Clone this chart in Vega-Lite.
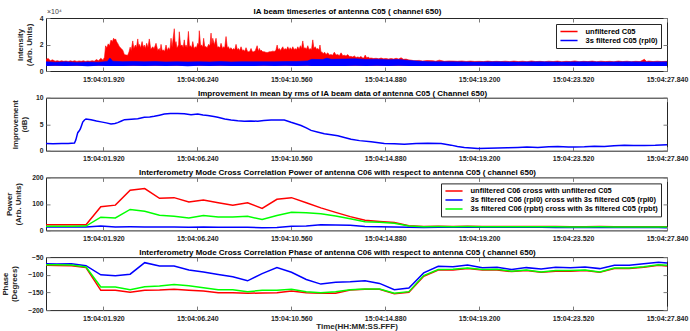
{
"$schema": "https://vega.github.io/schema/vega-lite/v6.json",
"background": "white",
"padding": {"left": 1, "top": 7, "right": 0, "bottom": 0},
"bounds": "flush",
"spacing": 26.7,
"config": {
  "font": "Liberation Sans",
  "view": {"stroke": "#262626", "strokeWidth": 1},
  "axis": {"domain": false, "grid": false, "tickSize": -4, "tickColor": "#7a7a7a", "tickWidth": 1,
           "labelFont": "Liberation Sans", "labelFontWeight": "bold", "labelColor": "#262626",
           "titleFont": "Liberation Sans", "titleFontWeight": "bold", "titleColor": "#262626", "titleFontSize": 7.8, "titleLineHeight": 9},
  "axisX": {"labelFontSize": 7, "labelPadding": 8},
  "axisY": {"labelFontSize": 6.8, "labelPadding": 7},
  "axisTop": {"minExtent": 0, "maxExtent": 0},
  "axisRight": {"minExtent": 0, "maxExtent": 0},
  "title": {"fontSize": 8, "fontWeight": "bold", "offset": -3, "anchor": "middle", "frame": "group", "color": "#000000", "font": "Liberation Sans"},
  "legend": {"orient": "top-right", "offset": 6, "title": null, "fillColor": "white", "strokeColor": "#262626", "padding": 3,
             "symbolType": "M-1.9,0L1.9,0", "symbolSize": 81, "symbolOffset": 4.5, "labelOffset": 11, "symbolStrokeWidth": 1.5, "labelFontSize": 7.5, "labelFontWeight": "bold",
             "labelColor": "#000000", "rowPadding": 0, "clipHeight": 9, "labelLimit": 400, "labelFont": "Liberation Sans"}
},
"datasets": {
  "red1": [
    {"t":-0.72,"hi":8800},{"t":-0.62,"hi":9400},{"t":-0.52,"hi":7800},{"t":-0.42,"hi":8400},{"t":-0.3,"hi":7400},{"t":-0.2,"hi":7800},{"t":-0.1,"hi":7300},{"t":0.0,"hi":7700},{"t":0.1,"hi":7300},{"t":0.2,"hi":7600},{"t":0.3,"hi":7200},{"t":0.4,"hi":7700},{"t":0.5,"hi":7300},{"t":0.6,"hi":7800},{"t":0.7,"hi":7200},{"t":0.8,"hi":7600},{"t":0.9,"hi":7300},{"t":1.0,"hi":7700},{"t":1.1,"hi":7200},{"t":1.2,"hi":7600},{"t":1.3,"hi":7300},{"t":1.4,"hi":7800},{"t":1.5,"hi":7400},{"t":1.6,"hi":8600},{"t":1.7,"hi":7700},{"t":1.8,"hi":9600},{"t":1.9,"hi":8200},{"t":1.97,"hi":10400},
    {"t":2.02,"hi":19000},{"t":2.08,"hi":17500},{"t":2.14,"hi":20500},{"t":2.2,"hi":19000},{"t":2.27,"hi":23400},{"t":2.33,"hi":22000},{"t":2.39,"hi":24700},{"t":2.44,"hi":23500},{"t":2.48,"hi":24200},{"t":2.53,"hi":22000},{"t":2.58,"hi":20800},{"t":2.62,"hi":19500},{"t":2.66,"hi":18300},{"t":2.7,"hi":17500},{"t":2.74,"hi":17000},{"t":2.77,"hi":16500},{"t":2.81,"hi":15700},{"t":2.85,"hi":14000},{"t":2.88,"hi":12400},{"t":2.96,"hi":12000},{"t":3.04,"hi":11900},{"t":3.1,"hi":14500},{"t":3.15,"hi":18000},{"t":3.2,"hi":15500},{"t":3.27,"hi":22700},{"t":3.32,"hi":17000},{"t":3.39,"hi":19600},{"t":3.44,"hi":17500},{"t":3.5,"hi":24200},{"t":3.54,"hi":18500},{"t":3.57,"hi":20100},{"t":3.63,"hi":17500},{"t":3.7,"hi":22200},{"t":3.75,"hi":17800},{"t":3.8,"hi":19600},{"t":3.85,"hi":17000},{"t":3.91,"hi":20900},{"t":3.97,"hi":17500},{"t":4.03,"hi":24200},{"t":4.1,"hi":16500},{"t":4.19,"hi":18300},{"t":4.25,"hi":16800},{"t":4.34,"hi":20900},{"t":4.42,"hi":15500},{"t":4.49,"hi":17000},{"t":4.53,"hi":15000},{"t":4.57,"hi":20100},{"t":4.62,"hi":15500},{"t":4.68,"hi":15800},{"t":4.74,"hi":15000},{"t":4.8,"hi":19600},{"t":4.86,"hi":15500},{"t":4.92,"hi":17600},{"t":4.98,"hi":16000},
    {"t":5.03,"hi":24700},{"t":5.08,"hi":18000},{"t":5.18,"hi":31900},{"t":5.22,"hi":20000},{"t":5.26,"hi":22200},{"t":5.3,"hi":17500},{"t":5.34,"hi":18300},{"t":5.38,"hi":20000},{"t":5.41,"hi":29600},{"t":5.47,"hi":19000},{"t":5.54,"hi":19600},{"t":5.59,"hi":17500},{"t":5.64,"hi":23500},{"t":5.68,"hi":18000},{"t":5.72,"hi":19600},{"t":5.77,"hi":17500},{"t":5.83,"hi":29900},{"t":5.88,"hi":18500},{"t":5.92,"hi":19100},{"t":5.98,"hi":17500},{"t":6.03,"hi":22200},{"t":6.09,"hi":17000},{"t":6.15,"hi":18300},{"t":6.2,"hi":17500},{"t":6.26,"hi":20900},{"t":6.3,"hi":19500},{"t":6.33,"hi":30400},{"t":6.39,"hi":19000},{"t":6.44,"hi":19600},{"t":6.49,"hi":18000},{"t":6.53,"hi":24700},{"t":6.58,"hi":18500},{"t":6.64,"hi":18300},{"t":6.69,"hi":17500},{"t":6.76,"hi":20100},{"t":6.82,"hi":19000},{"t":6.87,"hi":28600},{"t":6.91,"hi":20000},{"t":6.95,"hi":24700},{"t":7.02,"hi":19600},{"t":7.1,"hi":24700},{"t":7.16,"hi":18000},{"t":7.22,"hi":18300},{"t":7.28,"hi":17500},{"t":7.33,"hi":20900},{"t":7.4,"hi":17000},{"t":7.45,"hi":18300},{"t":7.5,"hi":17500},{"t":7.56,"hi":26000},{"t":7.62,"hi":17500},{"t":7.67,"hi":18300},{"t":7.72,"hi":16500},{"t":7.79,"hi":17600},{"t":7.85,"hi":16000},{"t":7.91,"hi":17000},{"t":7.96,"hi":16000},
    {"t":8.02,"hi":20100},{"t":8.08,"hi":16000},{"t":8.13,"hi":17000},{"t":8.19,"hi":15500},{"t":8.25,"hi":18300},{"t":8.31,"hi":15500},{"t":8.37,"hi":15800},{"t":8.42,"hi":15000},{"t":8.48,"hi":17600},{"t":8.54,"hi":15000},{"t":8.59,"hi":14500},{"t":8.65,"hi":14800},{"t":8.71,"hi":17000},{"t":8.77,"hi":14500},{"t":8.84,"hi":14500},{"t":8.91,"hi":15500},{"t":8.99,"hi":19100},{"t":9.05,"hi":15000},{"t":9.1,"hi":17000},{"t":9.14,"hi":15000},{"t":9.17,"hi":15800},{"t":9.25,"hi":14500},{"t":9.32,"hi":14500},{"t":9.4,"hi":14000},{"t":9.48,"hi":14000},{"t":9.55,"hi":14500},{"t":9.63,"hi":14500},{"t":9.7,"hi":15000},{"t":9.78,"hi":14800},{"t":9.85,"hi":15500},{"t":9.91,"hi":19600},{"t":9.96,"hi":16000},{"t":10.01,"hi":17000},{"t":10.06,"hi":15500},{"t":10.1,"hi":16500},{"t":10.17,"hi":18300},{"t":10.22,"hi":16000},{"t":10.28,"hi":17000},{"t":10.34,"hi":16000},{"t":10.4,"hi":18300},{"t":10.46,"hi":16000},{"t":10.51,"hi":17600},{"t":10.57,"hi":16000},{"t":10.63,"hi":18300},{"t":10.69,"hi":16000},{"t":10.74,"hi":17000},{"t":10.8,"hi":16000},{"t":10.86,"hi":18300},{"t":10.92,"hi":16500},{"t":10.98,"hi":19100},
    {"t":11.03,"hi":17000},{"t":11.09,"hi":22700},{"t":11.14,"hi":17000},{"t":11.2,"hi":17600},{"t":11.26,"hi":16500},{"t":11.32,"hi":19100},{"t":11.38,"hi":16000},{"t":11.43,"hi":17000},{"t":11.49,"hi":16000},{"t":11.55,"hi":23500},{"t":11.6,"hi":17000},{"t":11.66,"hi":18300},{"t":11.72,"hi":16500},{"t":11.78,"hi":17000},{"t":11.84,"hi":16000},{"t":11.88,"hi":19600},{"t":11.93,"hi":14000},{"t":11.96,"hi":14500},{"t":12.03,"hi":13000},{"t":12.09,"hi":14200},{"t":12.16,"hi":12500},{"t":12.24,"hi":13700},{"t":12.31,"hi":12000},{"t":12.39,"hi":12400},{"t":12.46,"hi":11800},{"t":12.54,"hi":14200},{"t":12.62,"hi":12000},{"t":12.7,"hi":12400},{"t":12.77,"hi":11500},{"t":12.85,"hi":13700},{"t":12.93,"hi":11500},{"t":13.0,"hi":11900},{"t":13.08,"hi":11300},{"t":13.16,"hi":12400},{"t":13.23,"hi":11000},{"t":13.31,"hi":11000},{"t":13.39,"hi":10600},{"t":13.46,"hi":11400},{"t":13.54,"hi":10200},{"t":13.62,"hi":10600},{"t":13.69,"hi":10200},{"t":13.77,"hi":11000},{"t":13.84,"hi":9800},{"t":13.9,"hi":9800},{"t":13.96,"hi":12000},{"t":14.03,"hi":9800},{"t":14.1,"hi":10600},{"t":14.16,"hi":9600},{"t":14.23,"hi":9800},{"t":14.35,"hi":9400},{"t":14.46,"hi":9600},{"t":14.58,"hi":9200},{"t":14.69,"hi":9800},{"t":14.8,"hi":9200},{"t":14.92,"hi":9400},{"t":15.03,"hi":9000},{"t":15.15,"hi":9400},{"t":15.27,"hi":9000},{"t":15.38,"hi":9600},{"t":15.5,"hi":9000},{"t":15.61,"hi":10000},{"t":15.72,"hi":8800},{"t":15.84,"hi":9000},{"t":15.95,"hi":8400},
    {"t":16.07,"hi":8200},{"t":16.2,"hi":7800},{"t":16.45,"hi":8000},{"t":16.6,"hi":7500},{"t":16.8,"hi":7900},{"t":17.07,"hi":7800},{"t":17.2,"hi":7400},{"t":17.37,"hi":8200},{"t":17.6,"hi":7300},{"t":17.8,"hi":7600},{"t":18.0,"hi":7500},{"t":18.2,"hi":7300},{"t":18.4,"hi":7600},{"t":18.6,"hi":7200},{"t":18.8,"hi":7500},{"t":19.0,"hi":7200},{"t":19.2,"hi":7300},{"t":19.4,"hi":7100},{"t":19.6,"hi":7500},{"t":19.8,"hi":7100},{"t":20.0,"hi":7300},{"t":20.2,"hi":7100},{"t":20.4,"hi":7400},{"t":20.6,"hi":7100},{"t":20.8,"hi":7500},{"t":21.0,"hi":7100},{"t":21.2,"hi":7400},{"t":21.4,"hi":7000},{"t":21.6,"hi":7600},{"t":21.8,"hi":7100},{"t":22.0,"hi":7300},{"t":22.2,"hi":7000},{"t":22.4,"hi":7400},{"t":22.6,"hi":7100},{"t":22.8,"hi":7500},{"t":23.0,"hi":7000},{"t":23.2,"hi":7300},{"t":23.4,"hi":7100},{"t":23.6,"hi":7600},{"t":23.8,"hi":7000},{"t":24.0,"hi":7300},{"t":24.2,"hi":7100},{"t":24.4,"hi":7500},{"t":24.6,"hi":7000},{"t":24.8,"hi":7400},{"t":25.0,"hi":7100},{"t":25.2,"hi":7300},{"t":25.4,"hi":7000},{"t":25.6,"hi":7500},{"t":25.8,"hi":7100},{"t":26.0,"hi":7400},{"t":26.2,"hi":7000},{"t":26.4,"hi":7300},{"t":26.6,"hi":7100},{"t":26.8,"hi":8800},{"t":26.9,"hi":7200},{"t":27.0,"hi":7500},{"t":27.2,"hi":7100},{"t":27.4,"hi":7400},{"t":27.6,"hi":7100},{"t":27.84,"hi":7300}
  ],
  "blue1": [
    {"t":-0.72,"hi":7000,"lo":3700},{"t":-0.3,"hi":6600,"lo":3900},{"t":0.2,"hi":6900,"lo":3700},{"t":0.7,"hi":6500,"lo":3900},{"t":1.2,"hi":6800,"lo":3600},{"t":1.7,"hi":6600,"lo":3900},{"t":2.1,"hi":7200,"lo":3800},{"t":2.22,"hi":9800,"lo":3800},{"t":2.35,"hi":7400,"lo":3800},{"t":2.8,"hi":7000,"lo":3700},{"t":3.3,"hi":7200,"lo":3900},{"t":3.8,"hi":6900,"lo":3700},{"t":4.3,"hi":7100,"lo":3900},{"t":4.8,"hi":6800,"lo":3700},{"t":5.3,"hi":7000,"lo":3900},{"t":5.8,"hi":6800,"lo":3600},{"t":6.3,"hi":7000,"lo":3900},{"t":6.8,"hi":6800,"lo":3700},{"t":7.3,"hi":7100,"lo":3900},{"t":7.8,"hi":6800,"lo":3700},{"t":8.3,"hi":7000,"lo":3800},{"t":8.8,"hi":6900,"lo":3700},{"t":9.3,"hi":7000,"lo":3900},{"t":9.8,"hi":6900,"lo":3700},{"t":10.3,"hi":7100,"lo":3900},{"t":10.8,"hi":7200,"lo":3700},{"t":11.3,"hi":7600,"lo":3900},{"t":11.5,"hi":8800,"lo":3800},{"t":12.0,"hi":8600,"lo":3800},{"t":12.2,"hi":9700,"lo":3800},{"t":12.4,"hi":8800,"lo":3800},{"t":13.0,"hi":9000,"lo":3700},{"t":13.5,"hi":9200,"lo":3900},{"t":14.0,"hi":8700,"lo":3700},{"t":14.5,"hi":8900,"lo":3900},{"t":15.0,"hi":8500,"lo":3700},{"t":15.5,"hi":8700,"lo":3900},{"t":16.0,"hi":7900,"lo":3700},{"t":16.5,"hi":7300,"lo":3800},{"t":17.0,"hi":7000,"lo":3800},{"t":18.0,"hi":6900,"lo":3700},{"t":19.0,"hi":6700,"lo":3900},{"t":20.0,"hi":6900,"lo":3700},{"t":21.0,"hi":6700,"lo":3900},{"t":22.0,"hi":6900,"lo":3700},{"t":23.0,"hi":6700,"lo":3900},{"t":24.0,"hi":6900,"lo":3700},{"t":25.0,"hi":6700,"lo":3900},{"t":26.0,"hi":6900,"lo":3700},{"t":27.0,"hi":6800,"lo":3800},{"t":27.84,"hi":6900,"lo":3800}
  ],
  "imp": [
    {"t":-0.72,"v":1.36},{"t":-0.4,"v":1.3},{"t":0.0,"v":1.38},{"t":0.3,"v":1.35},{"t":0.59,"v":1.45},{"t":0.65,"v":2.0},{"t":0.74,"v":3.4},{"t":0.8,"v":3.7},{"t":0.86,"v":4.1},{"t":0.92,"v":4.8},{"t":0.97,"v":5.4},{"t":1.05,"v":5.8},{"t":1.12,"v":5.99},{"t":1.35,"v":5.85},{"t":1.6,"v":5.6},{"t":1.81,"v":5.44},{"t":2.05,"v":5.25},{"t":2.27,"v":5.06},{"t":2.45,"v":5.15},{"t":2.58,"v":5.3},{"t":2.75,"v":5.6},{"t":2.89,"v":5.86},{"t":3.2,"v":5.95},{"t":3.5,"v":6.05},{"t":3.8,"v":6.3},{"t":4.05,"v":6.35},{"t":4.26,"v":6.48},{"t":4.5,"v":6.7},{"t":4.72,"v":6.91},{"t":5.0,"v":7.0},{"t":5.34,"v":7.04},{"t":5.64,"v":6.95},{"t":5.95,"v":6.79},{"t":6.26,"v":6.91},{"t":6.5,"v":6.75},{"t":6.72,"v":6.66},{"t":7.0,"v":6.45},{"t":7.18,"v":6.3},{"t":7.5,"v":6.0},{"t":7.79,"v":5.8},{"t":8.1,"v":5.65},{"t":8.4,"v":5.56},{"t":8.7,"v":5.6},{"t":9.02,"v":5.56},{"t":9.3,"v":5.7},{"t":9.63,"v":5.8},{"t":10.0,"v":5.8},{"t":10.24,"v":5.8},{"t":10.55,"v":5.37},{"t":10.8,"v":5.05},{"t":11.01,"v":4.75},{"t":11.25,"v":4.3},{"t":11.47,"v":3.83},{"t":11.8,"v":3.5},{"t":12.08,"v":3.21},{"t":12.4,"v":3.0},{"t":12.7,"v":2.8},{"t":13.0,"v":2.5},{"t":13.31,"v":2.16},{"t":13.7,"v":1.9},{"t":14.23,"v":1.67},{"t":14.84,"v":1.36},{"t":15.3,"v":1.3},{"t":15.76,"v":1.23},{"t":16.3,"v":1.35},{"t":16.84,"v":1.42},{"t":17.45,"v":1.36},{"t":17.91,"v":1.05},{"t":18.2,"v":0.8},{"t":18.52,"v":0.62},{"t":19.14,"v":0.43},{"t":19.6,"v":0.45},{"t":20.06,"v":0.49},{"t":20.5,"v":0.55},{"t":20.98,"v":0.62},{"t":21.4,"v":0.7},{"t":21.9,"v":0.62},{"t":22.4,"v":0.75},{"t":22.82,"v":0.8},{"t":23.3,"v":0.7},{"t":23.6,"v":0.72},{"t":24.04,"v":0.74},{"t":24.5,"v":0.85},{"t":24.96,"v":0.8},{"t":25.4,"v":0.95},{"t":25.88,"v":1.05},{"t":26.3,"v":0.98},{"t":26.8,"v":0.99},{"t":27.3,"v":1.02},{"t":27.84,"v":1.11}
  ],
  "power": [
    {"t":-0.72,"unf":21.7,"rpl0":13,"rpbt":16},{"t":-0.23,"unf":21.5,"rpl0":13,"rpbt":16},{"t":0.45,"unf":21.5,"rpl0":12.7,"rpbt":16},{"t":1.12,"unf":21.7,"rpl0":13,"rpbt":16.5},{"t":1.8,"unf":89,"rpl0":16.6,"rpbt":49.7},{"t":2.47,"unf":95.3,"rpl0":13,"rpbt":47.2},{"t":3.15,"unf":151.7,"rpl0":13.5,"rpbt":79},{"t":3.82,"unf":158,"rpl0":13,"rpbt":72.6},{"t":4.5,"unf":121,"rpl0":13,"rpbt":57.4},{"t":5.17,"unf":123.6,"rpl0":12.5,"rpbt":53.5},{"t":5.85,"unf":107,"rpl0":11.5,"rpbt":47.2},{"t":6.52,"unf":114.7,"rpl0":12.5,"rpbt":56.1},{"t":7.2,"unf":104.5,"rpl0":12,"rpbt":51},{"t":7.87,"unf":95.3,"rpl0":12,"rpbt":51},{"t":8.55,"unf":104.5,"rpl0":12,"rpbt":53.5},{"t":9.22,"unf":83,"rpl0":10,"rpbt":40.8},{"t":9.9,"unf":117.3,"rpl0":10.5,"rpbt":56.1},{"t":10.57,"unf":123.6,"rpl0":16,"rpbt":68.8},{"t":11.25,"unf":104.5,"rpl0":17,"rpbt":66.3},{"t":11.92,"unf":85,"rpl0":21,"rpbt":62.4},{"t":12.6,"unf":68,"rpl0":20,"rpbt":54},{"t":13.27,"unf":52,"rpl0":19,"rpbt":44},{"t":13.95,"unf":38,"rpl0":14.5,"rpbt":33},{"t":14.62,"unf":34,"rpl0":14,"rpbt":31},{"t":15.3,"unf":30,"rpl0":13,"rpbt":27},{"t":15.97,"unf":18,"rpl0":11.5,"rpbt":17},{"t":16.65,"unf":15,"rpl0":11,"rpbt":14},{"t":17.32,"unf":15.5,"rpl0":11.5,"rpbt":14.5},{"t":18.0,"unf":15,"rpl0":11.5,"rpbt":14},{"t":18.67,"unf":15.5,"rpl0":12,"rpbt":14.5},{"t":19.35,"unf":15,"rpl0":12,"rpbt":14},{"t":20.02,"unf":14.5,"rpl0":12,"rpbt":13.5},{"t":20.7,"unf":15,"rpl0":11.5,"rpbt":14},{"t":21.37,"unf":14.5,"rpl0":11.5,"rpbt":13.5},{"t":22.05,"unf":14.5,"rpl0":11.5,"rpbt":13.5},{"t":22.72,"unf":14.5,"rpl0":11,"rpbt":13.5},{"t":23.4,"unf":14,"rpl0":11,"rpbt":13},{"t":24.07,"unf":14,"rpl0":11,"rpbt":13},{"t":24.75,"unf":14.5,"rpl0":11,"rpbt":13.5},{"t":25.42,"unf":14,"rpl0":11,"rpbt":13},{"t":26.1,"unf":14,"rpl0":10.5,"rpbt":13},{"t":26.77,"unf":13.5,"rpl0":10.5,"rpbt":12.5},{"t":27.45,"unf":13.5,"rpl0":10.5,"rpbt":12.5},{"t":27.84,"unf":13.5,"rpl0":10,"rpbt":12.5}
  ],
  "phase": [
    {"t":-0.72,"unf":-73.3,"rpl0":-68.6,"rpbt":-71.4},{"t":-0.23,"unf":-73.5,"rpl0":-69.6,"rpbt":-72},{"t":0.45,"unf":-74.2,"rpl0":-68.6,"rpbt":-72.3},{"t":1.12,"unf":-79.8,"rpl0":-74.2,"rpbt":-78},{"t":1.8,"unf":-144.1,"rpl0":-100.3,"rpbt":-134.8},{"t":2.47,"unf":-144.1,"rpl0":-103.1,"rpbt":-134.8},{"t":3.15,"unf":-149.7,"rpl0":-98.4,"rpbt":-142.2},{"t":3.82,"unf":-144.1,"rpl0":-65.8,"rpbt":-133.9},{"t":4.5,"unf":-143.2,"rpl0":-75.2,"rpbt":-132},{"t":5.17,"unf":-141.3,"rpl0":-75.2,"rpbt":-127.3},{"t":5.85,"unf":-144.1,"rpl0":-86.3,"rpbt":-131},{"t":6.52,"unf":-146,"rpl0":-91.9,"rpbt":-136.6},{"t":7.2,"unf":-150.6,"rpl0":-99.4,"rpbt":-142.2},{"t":7.87,"unf":-150.6,"rpl0":-105.9,"rpbt":-142.2},{"t":8.55,"unf":-152.5,"rpl0":-117.1,"rpbt":-147.8},{"t":9.22,"unf":-151.5,"rpl0":-96.6,"rpbt":-144},{"t":9.9,"unf":-150.6,"rpl0":-79.8,"rpbt":-144},{"t":10.57,"unf":-146,"rpl0":-92.9,"rpbt":-141.3},{"t":11.25,"unf":-150.6,"rpl0":-113.4,"rpbt":-147.8},{"t":11.92,"unf":-152.5,"rpl0":-126.4,"rpbt":-150.6},{"t":12.6,"unf":-152.5,"rpl0":-121,"rpbt":-148},{"t":13.27,"unf":-143,"rpl0":-119.5,"rpbt":-142.2},{"t":13.95,"unf":-141.3,"rpl0":-117,"rpbt":-140.4},{"t":14.62,"unf":-141.3,"rpl0":-124.5,"rpbt":-140.4},{"t":15.3,"unf":-153.4,"rpl0":-142.2,"rpbt":-152.5},{"t":15.97,"unf":-149.7,"rpl0":-137.6,"rpbt":-147.8},{"t":16.65,"unf":-104.1,"rpl0":-94.7,"rpbt":-102.2},{"t":17.32,"unf":-86.4,"rpl0":-76.1,"rpbt":-85.4},{"t":18.0,"unf":-86.4,"rpl0":-77,"rpbt":-84.5},{"t":18.67,"unf":-82.6,"rpl0":-72.4,"rpbt":-80.7},{"t":19.35,"unf":-86.4,"rpl0":-79.8,"rpbt":-85.4},{"t":20.02,"unf":-86.4,"rpl0":-78.9,"rpbt":-84.5},{"t":20.7,"unf":-91,"rpl0":-85.4,"rpbt":-90.1},{"t":21.37,"unf":-88.2,"rpl0":-79.8,"rpbt":-86.4},{"t":22.05,"unf":-92.9,"rpl0":-83.5,"rpbt":-91.9},{"t":22.72,"unf":-90.1,"rpl0":-78.9,"rpbt":-88.2},{"t":23.4,"unf":-90.1,"rpl0":-79.8,"rpbt":-88.2},{"t":24.07,"unf":-88.2,"rpl0":-78,"rpbt":-86.4},{"t":24.75,"unf":-92.9,"rpl0":-82.6,"rpbt":-91.9},{"t":25.42,"unf":-82.6,"rpl0":-73.3,"rpbt":-80.7},{"t":26.1,"unf":-82.6,"rpl0":-73.3,"rpbt":-80.7},{"t":26.77,"unf":-78.9,"rpl0":-68.6,"rpbt":-77},{"t":27.45,"unf":-73.3,"rpl0":-64.9,"rpbt":-71.4},{"t":27.84,"unf":-75.2,"rpl0":-66.8,"rpbt":-73.3}
  ]
},
"vconcat": [
  {
    "width": 621, "height": 53,
    "title": {"text": "IA beam timeseries of antenna C05 ( channel 650)", "dx": -9, "offset": -8},
    "layer": [
      {"data": {"name": "red1"}, "mark": {"type": "area", "color": "#ff0000", "interpolate": "linear"},
       "encoding": {
         "x": {"field": "t", "type": "quantitative", "scale": {"domain": [-0.72, 27.84], "nice": false, "zero": false},
               "axis": {"orient": "bottom", "values": [1.92, 6.24, 10.56, 14.88, 19.2, 23.52, 27.84], "labelExpr": "'15:04:' + format(datum.value, '06.3f')", "title": null, "labelFlush": false, "labelOverlap": false}},
         "y": {"field": "hi", "type": "quantitative", "scale": {"domain": [0, 40000], "nice": false},
               "axis": {"orient": "left", "values": [0, 20000, 40000], "labelExpr": "format(datum.value / 10000, 'd')", "title": ["Intensity", "(Arb. Units)"], "titleX": -21.7, "titleBaseline": "bottom"}},
         "y2": {"datum": 4000}
       }},
      {"data": {"name": "red1"}, "mark": {"type": "line", "strokeWidth": 0.6},
       "encoding": {
         "x": {"field": "t", "type": "quantitative", "axis": null},
         "y": {"field": "hi", "type": "quantitative", "axis": null},
         "stroke": {"datum": "unfiltered C05", "scale": {"domain": ["unfiltered C05", "3s filtered C05 (rpl0)"], "range": ["#ff0000", "#0000ff"]}, "legend": {"clipHeight": 9, "rowPadding": 0, "symbolSize": 81}}
       }},
      {"data": {"name": "blue1"}, "mark": {"type": "area", "color": "#0000ff", "interpolate": "linear"},
       "encoding": {
         "x": {"field": "t", "type": "quantitative", "axis": {"orient": "top", "values": [1.92, 6.24, 10.56, 14.88, 19.2, 23.52, 27.84], "labels": false, "title": null}},
         "y": {"field": "hi", "type": "quantitative", "axis": {"orient": "right", "values": [0, 20000, 40000], "labels": false, "title": null}},
         "y2": {"field": "lo"}
       }},
      {"data": {"name": "blue1"}, "mark": {"type": "line", "strokeWidth": 0.6},
       "encoding": {
         "x": {"field": "t", "type": "quantitative", "axis": null},
         "y": {"field": "hi", "type": "quantitative", "axis": null},
         "stroke": {"datum": "3s filtered C05 (rpl0)"}
       }},
      {"data": {"values": [{"label": "×10⁴"}]}, "mark": {"type": "text", "align": "left", "baseline": "alphabetic", "dy": -4, "dx": 1, "fontSize": 7, "color": "#404040", "font": "Liberation Sans"},
       "encoding": {
         "x": {"datum": -0.72, "type": "quantitative", "axis": null},
         "y": {"datum": 40000, "type": "quantitative", "axis": null},
         "text": {"field": "label"}
       }}
    ],
    "resolve": {"axis": {"x": "independent", "y": "independent"}}
  },
  {
    "width": 621, "height": 53,
    "title": {"text": "Improvement in mean by rms of IA beam data of antenna C05 ( Channel 650)", "dx": -14},
    "data": {"name": "imp"},
    "layer": [
      {"mark": {"type": "line", "color": "#0000ff", "strokeWidth": 1.5},
       "encoding": {
         "x": {"field": "t", "type": "quantitative", "scale": {"domain": [-0.72, 27.84], "nice": false, "zero": false},
               "axis": {"orient": "bottom", "values": [1.92, 6.24, 10.56, 14.88, 19.2, 23.52, 27.84], "labelExpr": "'15:04:' + format(datum.value, '06.3f')", "title": null, "labelFlush": false, "labelOverlap": false}},
         "y": {"field": "v", "type": "quantitative", "scale": {"domain": [0, 10], "nice": false},
               "axis": {"orient": "left", "values": [0, 5, 10], "title": ["Improvement", "(dB)"], "titleX": -26.5, "titleBaseline": "bottom"}}
       }},
      {"mark": {"type": "line", "color": "#0000ff", "opacity": 0},
       "encoding": {
         "x": {"field": "t", "type": "quantitative", "axis": {"orient": "top", "values": [1.92, 6.24, 10.56, 14.88, 19.2, 23.52, 27.84], "labels": false, "title": null}},
         "y": {"field": "v", "type": "quantitative", "axis": {"orient": "right", "values": [0, 5, 10], "labels": false, "title": null}}
       }}
    ],
    "resolve": {"axis": {"x": "independent", "y": "independent"}}
  },
  {
    "width": 621, "height": 53,
    "title": {"text": "Interferometry Mode Cross Correlation Power of antenna C06 with respect to antenna C05 ( channel 650)", "dx": -19},
    "data": {"name": "power"},
    "layer": [
      {"mark": {"type": "line", "strokeWidth": 1.5},
       "encoding": {
         "x": {"field": "t", "type": "quantitative", "scale": {"domain": [-0.72, 27.84], "nice": false, "zero": false},
               "axis": {"orient": "bottom", "values": [1.92, 6.24, 10.56, 14.88, 19.2, 23.52, 27.84], "labelExpr": "'15:04:' + format(datum.value, '06.3f')", "title": null, "labelFlush": false, "labelOverlap": false}},
         "y": {"field": "unf", "type": "quantitative", "scale": {"domain": [0, 200], "nice": false},
               "axis": {"orient": "left", "values": [0, 100, 200], "title": ["Power", "(Arb. Units)"], "titleX": -32.5, "titleBaseline": "bottom"}},
         "stroke": {"datum": "unfiltered C06 cross with unfiltered C05",
                    "scale": {"domain": ["unfiltered C06 cross with unfiltered C05", "3s filtered C06 (rpl0) cross with 3s filtered C05 (rpl0)", "3s filtered C06 (rpbt) cross with 3s filtered C05 (rpbt)"], "range": ["#ff0000", "#0000ff", "#00ff00"]},
                    "legend": {"clipHeight": 9, "rowPadding": 0, "symbolSize": 81}}
       }},
      {"mark": {"type": "line", "strokeWidth": 1.5},
       "encoding": {
         "x": {"field": "t", "type": "quantitative", "axis": {"orient": "top", "values": [1.92, 6.24, 10.56, 14.88, 19.2, 23.52, 27.84], "labels": false, "title": null}},
         "y": {"field": "rpl0", "type": "quantitative", "axis": {"orient": "right", "values": [0, 100, 200], "labels": false, "title": null}},
         "stroke": {"datum": "3s filtered C06 (rpl0) cross with 3s filtered C05 (rpl0)"}
       }},
      {"mark": {"type": "line", "strokeWidth": 1.5},
       "encoding": {
         "x": {"field": "t", "type": "quantitative", "axis": null},
         "y": {"field": "rpbt", "type": "quantitative", "axis": null},
         "stroke": {"datum": "3s filtered C06 (rpbt) cross with 3s filtered C05 (rpbt)"}
       }}
    ],
    "resolve": {"axis": {"x": "independent", "y": "independent"}}
  },
  {
    "width": 621, "height": 53,
    "title": {"text": "Interferometry Mode Cross Correlation Phase of antenna C06 with respect to antenna C05 ( channel 650)", "dx": -19},
    "data": {"name": "phase"},
    "layer": [
      {"mark": {"type": "line", "strokeWidth": 1.5, "color": "#ff0000"},
       "encoding": {
         "x": {"field": "t", "type": "quantitative", "scale": {"domain": [-0.72, 27.84], "nice": false, "zero": false},
               "axis": {"orient": "bottom", "values": [1.92, 6.24, 10.56, 14.88, 19.2, 23.52, 27.84], "labelExpr": "'15:04:' + format(datum.value, '06.3f')", "title": "Time(HH:MM:SS.FFF)", "titleFontSize": 8, "titlePadding": 1, "labelFlush": false, "labelOverlap": false}},
         "y": {"field": "unf", "type": "quantitative", "scale": {"domain": [-200, -50], "nice": false, "zero": false},
               "axis": {"orient": "left", "values": [-200, -150, -100, -50], "title": ["Phase", "(Degrees)"], "titleX": -36.4, "titleBaseline": "bottom"}}
       }},
      {"mark": {"type": "line", "strokeWidth": 1.5, "color": "#0000ff"},
       "encoding": {
         "x": {"field": "t", "type": "quantitative", "axis": {"orient": "top", "values": [1.92, 6.24, 10.56, 14.88, 19.2, 23.52, 27.84], "labels": false, "title": null}},
         "y": {"field": "rpl0", "type": "quantitative", "axis": {"orient": "right", "values": [-200, -150, -100, -50], "labels": false, "title": null}}
       }},
      {"mark": {"type": "line", "strokeWidth": 1.5, "color": "#00ff00"},
       "encoding": {
         "x": {"field": "t", "type": "quantitative", "axis": null},
         "y": {"field": "rpbt", "type": "quantitative", "axis": null}
       }}
    ],
    "resolve": {"axis": {"x": "independent", "y": "independent"}}
  }
],
"resolve": {"scale": {"x": "independent", "y": "independent", "stroke": "independent"}, "legend": {"stroke": "independent"}}
}
